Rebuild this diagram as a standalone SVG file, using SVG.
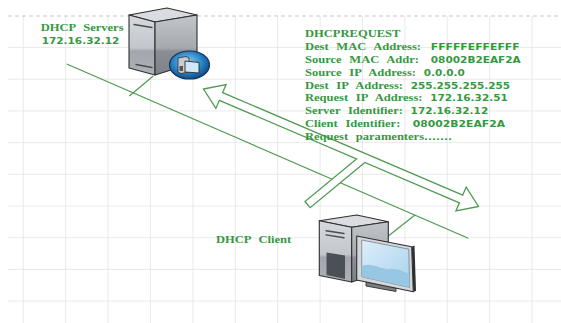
<svg xmlns="http://www.w3.org/2000/svg" width="561" height="323" viewBox="0 0 561 323">
  <style>
    .grid { stroke: #e4e4e4; stroke-width: 0.8; fill: none; }
    .rule { stroke: #b9b9b9; stroke-width: 0.8; stroke-dasharray: 4 3; fill: none; }
    .lbl { font-family: "Liberation Serif", "Times New Roman", serif; font-weight: bold; font-size: 11px; fill: #36983f; word-spacing: 4px; }
    .num { font-family: "DejaVu Sans", Verdana, sans-serif; font-weight: bold; font-size: 9.2px; word-spacing: 0; }
    .wire { stroke: #4e9a52; stroke-width: 1.2; fill: none; }
    .flow { fill: #ffffff; stroke: #4e9a52; stroke-width: 1.3; stroke-linejoin: miter; }
    .edge { stroke: #2f2f2f; stroke-width: 1.1; stroke-linejoin: round; }
    .slot { stroke: #4a4d52; stroke-width: 1.4; stroke-linecap: round; }
  </style>
  <defs>
    <linearGradient id="faceL" x1="0" y1="0" x2="0" y2="1">
      <stop offset="0" stop-color="#d6d9de"/>
      <stop offset="0.55" stop-color="#c3c6cc"/>
      <stop offset="0.6" stop-color="#a3a6ac"/>
      <stop offset="1" stop-color="#aeb1b7"/>
    </linearGradient>
    <linearGradient id="faceR" x1="0" y1="0" x2="0" y2="1">
      <stop offset="0" stop-color="#c2c5ca"/>
      <stop offset="0.55" stop-color="#a6a9ae"/>
      <stop offset="0.6" stop-color="#8b8e94"/>
      <stop offset="1" stop-color="#7e8187"/>
    </linearGradient>
    <radialGradient id="badge" cx="0.45" cy="0.4" r="0.6">
      <stop offset="0" stop-color="#8fd0f2"/>
      <stop offset="0.6" stop-color="#2a86c8"/>
      <stop offset="1" stop-color="#0d4a86"/>
    </radialGradient>
    <linearGradient id="screen" x1="0" y1="0" x2="1" y2="1">
      <stop offset="0" stop-color="#dceefa"/>
      <stop offset="1" stop-color="#a9d2ec"/>
    </linearGradient>
  </defs>

  <rect width="561" height="323" fill="#ffffff"/>

  <!-- background grid -->
  <path class="grid" d="M23.3 16V323 M65.7 16V323 M108.1 16V323 M150.5 16V323 M192.9 16V323 M235.3 16V323 M277.7 16V323 M320.1 16V323 M362.5 16V323 M404.9 16V323 M447.3 16V323 M489.7 16V323 M532.1 16V323
    M8 47.5H561 M8 79.2H561 M8 110.9H561 M8 142.6H561 M8 174.3H561 M8 206H561 M8 237.7H561 M8 269.4H561 M8 301.1H561"/>
  <path class="rule" d="M8 16H561"/>

  <!-- connectors -->
  <g id="connectors">
    <line class="wire" x1="66.7" y1="64" x2="468.3" y2="238.3"/>
    <line class="wire" x1="153.3" y1="76" x2="129.3" y2="96"/>
    <line class="wire" x1="388.3" y1="236" x2="415" y2="215"/>
    <!-- request flow: double-headed block arrow with a branch towards the client -->
    <path class="flow" transform="translate(203.5,89) rotate(23.13)"
      d="M0 0 L19 -13 L19 -4.2 L280.05 -4.2 L280.05 -13 L299.05 0 L280.05 13 L280.05 4.2 L177.2 4.2 L144.7 67.2 L137.5 63.6 L168.2 4.2 L19 4.2 L19 13 Z"/>
  </g>

  <!-- DHCP server -->
  <g id="server">
    <polygon points="129,15 167,8 197,15 155,22" fill="#dadce1" class="edge"/>
    <polygon points="129,15 155,22 155,75 129,68" fill="url(#faceL)" class="edge"/>
    <polygon points="155,22 197,15 197,62 155,75" fill="url(#faceR)" class="edge"/>
    <line class="slot" x1="134" y1="24.5" x2="152" y2="27.5"/>
    <line class="slot" x1="136" y1="64.5" x2="152" y2="67.5"/>
    <ellipse cx="189.5" cy="65" rx="20" ry="14" fill="url(#badge)" stroke="#13335a" stroke-width="1.2"/>
    <polygon points="178,58 186,56.5 189,58 189,72 181,73.5 178,72" fill="#c9ccd1" stroke="#2b2b2b" stroke-width="0.8"/>
    <polygon points="185,61 199,62.5 199,73 185,72" fill="#cfe7f6" stroke="#2b2b2b" stroke-width="0.9"/>
    <rect x="179.5" y="66" width="3.5" height="5" fill="#555"/>
    <g transform="translate(40.7,0) scale(1.14,1)">
      <text class="lbl" x="0" y="30.7">DHCP Servers</text>
      <text class="lbl num" x="0.9" y="44.3">172.16.32.12</text>
    </g>
  </g>

  <!-- DHCP client -->
  <g id="client">
    <polygon points="319.3,220.7 356.7,215 388.3,221.7 351.7,227.3" fill="#dadce1" class="edge"/>
    <polygon points="319.3,220.7 351.7,227.3 351.7,282 319.3,275.5" fill="url(#faceL)" class="edge"/>
    <polygon points="351.7,227.3 388.3,221.7 388.3,270 351.7,282" fill="url(#faceR)" class="edge"/>
    <line class="slot" x1="326" y1="230.7" x2="344" y2="233.5"/>
    <line class="slot" x1="326" y1="234.9" x2="344" y2="237.7"/>
    <polygon points="326.5,252.5 345,255.5 345,279 326.5,275" fill="#4b5057"/>
    <polygon points="366,282 396,287.5 396,291.5 366,286" fill="#7a7d82" stroke="#2f2f2f" stroke-width="0.9"/>
    <polygon points="411.7,246.7 414.5,245.5 416,291 413.3,291.7" fill="#2c2f33"/>
    <polygon points="356.7,236 411.7,246.7 413.3,291.7 356.7,280" fill="#d3d6db" class="edge"/>
    <polygon points="361.7,240 408.8,249.2 409.6,287.3 361.7,276.8" fill="url(#screen)" stroke="#6d7379" stroke-width="0.7"/>
    <path d="M361.7 266 C372 262 380 270 390 269 C398 268 403 272 409.4 274 L409.6 287.3 L361.7 276.8 Z" fill="#98c7e4"/>
    <g transform="translate(216,0) scale(1.14,1)">
      <text class="lbl" x="0" y="243.3">DHCP Client</text>
    </g>
  </g>

  <!-- request message details -->
  <g id="request-fields" transform="translate(305,0) scale(1.14,1)">
    <text class="lbl" x="0" y="37.5">DHCPREQUEST</text>
    <text class="lbl" x="0" y="50.3">Dest MAC Address:</text>
    <text class="lbl num" x="110.3" y="50.3" textLength="78" lengthAdjust="spacingAndGlyphs">FFFFFEFFEFFF</text>
    <text class="lbl" x="0" y="63.1">Source MAC Addr:</text>
    <text class="lbl num" x="110.3" y="63.1" textLength="79" lengthAdjust="spacingAndGlyphs">08002B2EAF2A</text>
    <text class="lbl" x="0" y="75.9">Source IP Address: <tspan class="num">0.0.0.0</tspan></text>
    <text class="lbl" x="0" y="88.7">Dest IP Address: <tspan class="num">255.255.255.255</tspan></text>
    <text class="lbl" x="0" y="101.5">Request IP Address: <tspan class="num">172.16.32.51</tspan></text>
    <text class="lbl" x="0" y="114.3">Server Identifier: <tspan class="num">172.16.32.12</tspan></text>
    <text class="lbl" x="0" y="127.1">Client Identifier:</text>
    <text class="lbl num" x="94.5" y="127.1" textLength="81" lengthAdjust="spacingAndGlyphs">08002B2EAF2A</text>
    <text class="lbl" x="0" y="139.9">Request paramenters<tspan class="num">.......</tspan></text>
  </g>
</svg>
